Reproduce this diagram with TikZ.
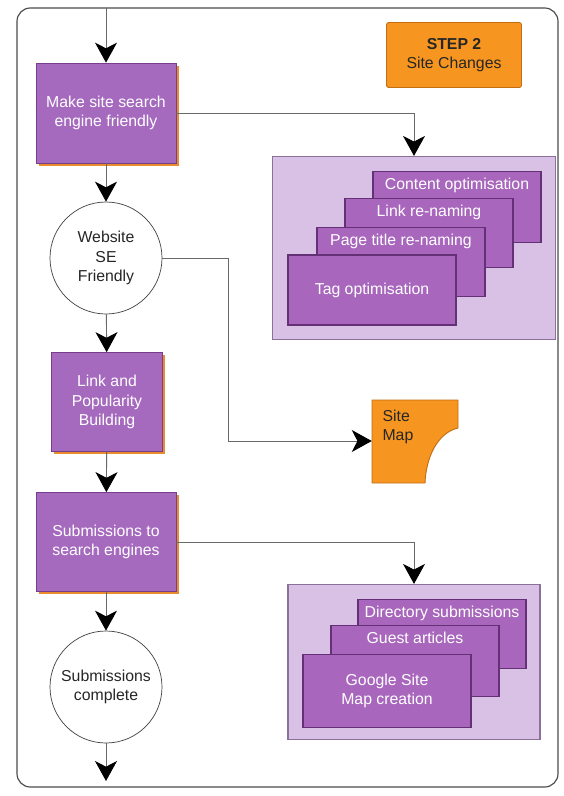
\documentclass[tikz,border=0pt]{standalone}
\usepackage{fontspec}
\setmainfont{Liberation Sans}
\usetikzlibrary{arrows.meta,shadows}
\definecolor{lila}{RGB}{165,105,190}
\definecolor{lilarand}{RGB}{120,62,140}
\definecolor{hell}{RGB}{216,193,228}
\definecolor{hellrand}{RGB}{140,112,156}
\definecolor{subfarbe}{RGB}{168,102,188}
\definecolor{subrand}{RGB}{100,48,118}
\definecolor{orng}{RGB}{246,150,32}
\definecolor{orngrand}{RGB}{196,110,20}
\definecolor{schatten}{RGB}{232,140,44}
\definecolor{linie}{RGB}{105,105,105}
\begin{document}
\begin{tikzpicture}
        [x=0.03cm,y=-0.03cm,
        font=\fontsize{13.5}{16.5}\selectfont,
        prz/.style={draw=lilarand,fill=lila,text=white,align=center,line width=0.6pt,
                drop shadow={shadow xshift=2.5pt,shadow yshift=-2.5pt,fill=schatten,opacity=1}},
        krs/.style={circle,draw=black!75,fill=white,text=black!85,align=center,minimum size=3.36cm,inner sep=0pt,line width=0.6pt},
        stp/.style={draw=orngrand,fill=orng,rounded corners=2pt,align=center,text=black!85,line width=0.8pt},
        grp/.style={draw=hellrand,fill=hell,line width=1pt},
        sub/.style={draw=subrand,fill=subfarbe,text=white,align=center,line width=1.2pt,minimum width=5.05cm},
        sbt/.style={anchor=north,text=white,inner sep=6pt},
        pfl/.style={draw=linie,line width=0.8pt,-{Stealth[length=0.6cm,width=0.66cm,inset=0.17cm,color=black]}}]
        \useasboundingbox (0,0) rectangle (563,796);
        %Rahmen
        \draw [draw=black!70,line width=1pt,rounded corners=0.4cm] (17,8) rectangle (558,787);
        %Hauptspalte
        \node [prz,minimum width=4.2cm,minimum height=3cm] (Mak) at (106,113) {Make site search\\engine friendly};
        \node [krs] (Web) at (106,258) {Website\\SE\\Friendly};
        \node [prz,minimum width=3.33cm,minimum height=2.97cm] (Lnk) at (107,402) {Link and\\Popularity\\Building};
        \node [prz,minimum width=4.2cm,minimum height=2.97cm] (Sbm) at (106,542) {Submissions to\\search engines};
        \node [krs] (Fer) at (106,687) {Submissions\\complete};
        \coordinate (Anf) at (106,8);
        \coordinate (End) at (106,781);
        %Schritt
        \node [stp,minimum width=4.05cm,minimum height=1.95cm] (Stp) at (454,55) {\textbf{STEP 2}\\Site Changes};
        %Seitenaenderungen
        \node [grp,minimum width=8.49cm,minimum height=5.49cm] (Gr1) at (414,248) {};
        \node [sub,minimum height=2.13cm,label={[sbt]north:Content optimisation}] (Con) at (457,207) {};
        \node [sub,minimum height=2.07cm,label={[sbt]north:Link re-naming}] (Lin) at (429,233) {};
        \node [sub,minimum height=2.07cm,label={[sbt]north:Page title re-naming}] (Pag) at (401,262) {};
        \node [sub,minimum height=2.1cm] (Tag) at (372,290) {Tag optimisation};
        %Site Map
        \filldraw [fill=orng,draw=orngrand,line width=0.8pt] (372,400) -- (458,400) -- (458,428)
                .. controls (437,433) and (426,458) .. (425,483) -- (372,483) -- cycle;
        \node [minimum width=2.58cm,minimum height=2.49cm,
                label={[anchor=north west,inner sep=9pt,align=left,text=black!85]north west:Site\\Map}] (Map) at (415,441) {};
        %Anmeldungen
        \node [grp,minimum width=7.56cm,minimum height=4.65cm] (Gr2) at (414,662) {};
        \node [sub,minimum height=2.07cm,label={[sbt]north:Directory submissions}] (Dir) at (442,634) {};
        \node [sub,minimum height=2.13cm,label={[sbt]north:Guest articles}] (Gue) at (415,661) {};
        \node [sub,minimum height=2.19cm] (Goo) at (387,691) {Google Site\\Map creation};
        %Pfeile
        \draw [pfl] (Anf) -- (Mak);
        \draw [pfl] (Mak) -- (Web);
        \draw [pfl] (Web) -- (Lnk);
        \draw [pfl] (Lnk) -- (Sbm);
        \draw [pfl] (Sbm) -- (Fer);
        \draw [pfl] (Fer) -- (End);
        \draw [pfl] (Mak.east) -| (Gr1.north);
        \draw [pfl] (Web.east) -- ++(66,0) |- (Map.west);
        \draw [pfl] (Sbm.east) -| (Gr2.north);
\end{tikzpicture}
\end{document}
